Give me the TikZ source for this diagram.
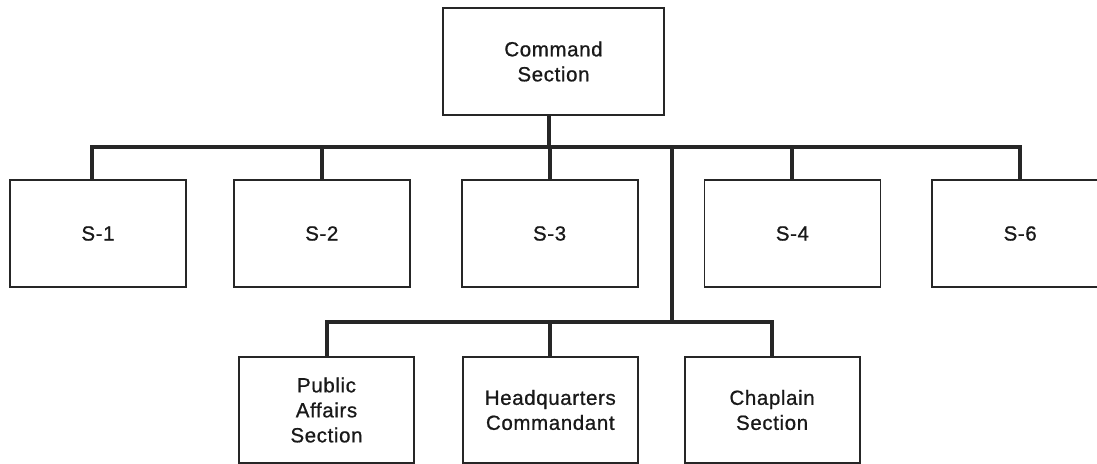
\documentclass[tikz,border=0pt]{standalone}
\usepackage{fontspec}
\usepackage{xcolor}
\usepackage{tikz}
\usetikzlibrary{positioning}
\newfontfamily\orgfont[LetterSpace=3,FakeBold=0.8]{Liberation Sans}
\definecolor{orgline}{HTML}{262626}
\tikzset{
  obox/.style ={draw=orgline, line width=1.8pt, align=center, inner sep=0pt,
                minimum width=176pt, minimum height=107pt, text=black!90,
                font=\orgfont\fontsize{20.5}{25}\selectfont},
  obus/.style ={draw=orgline, line width=4pt},
}
\begin{document}
\begin{tikzpicture}[x=1pt, y=-1pt, node distance=46pt]
\useasboundingbox (0,0) rectangle (1097,463);

\node[obox, minimum width=221pt] (cmd) at (553.5,61.5) {Command\\Section};

\node[obox] (s1) at (98,233.5) {S-1};
\node[obox, right=46pt of s1] (s2) {S-2};
\node[obox, right=50pt of s2] (s3) {S-3};
\node[obox, right=65pt of s3] (s4) {S-4};
\node[obox, right=50pt of s4] (s6) {S-6};

\node[obox, minimum width=175pt, minimum height=106pt] (pa) at (326.5,410)
  {Public\\Affairs\\Section};
\node[obox, minimum width=175pt, minimum height=106pt, right=47pt of pa] (hq)
  {Headquarters\\Commandant};
\node[obox, minimum width=175pt, minimum height=106pt, right=45pt of hq] (chap)
  {Chaplain\\Section};

\coordinate (bus) at (0,147);
\coordinate (lowbus) at (0,322);
\coordinate (split) at (672,147);

% upper bus
\draw[obus] ([xshift=-6pt]s1.north) -- ([xshift=-6pt]s1.north |- bus)
  -- (s6.north |- bus) -- (s6.north);
\draw[obus] ([xshift=-5pt]cmd.south) -- ([xshift=-5pt]cmd.south |- bus);
\foreach \n in {s2,s3,s4}
  \draw[obus] (\n.north) -- (\n.north |- bus);

% drop to the special staff
\draw[obus] (split) -- (split |- lowbus);
\draw[obus] (pa.north) -- (pa.north |- lowbus) -- (chap.north |- lowbus) -- (chap.north);
\draw[obus] (hq.north) -- (hq.north |- lowbus);

\end{tikzpicture}
\end{document}
